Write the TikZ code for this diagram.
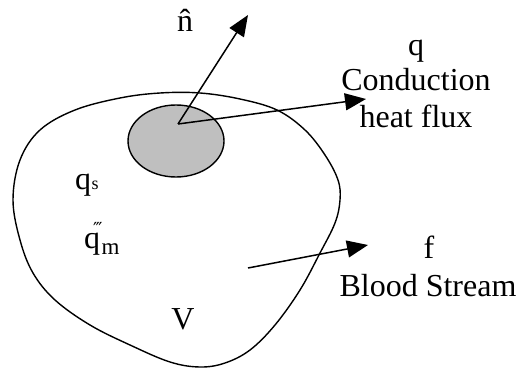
\documentclass[tikz,border=0pt]{standalone}
\usepackage{fontspec}
\setmainfont{Liberation Serif}
\newfontfamily\dvserif{DejaVu Serif}
\usetikzlibrary{arrows.meta,shapes.geometric}
\tikzset{
  lbl/.style={inner sep=0pt, anchor=base, font=\fontsize{32}{36}\selectfont},
  lblw/.style={inner sep=0pt, anchor=base west, font=\fontsize{32}{36}\selectfont},
  vec/.style={line width=1.5pt, -{Triangle[length=21pt,width=17pt]}},
  blob/.style={line width=1.4pt},
}
\begin{document}
\begin{tikzpicture}[x=1pt,y=-1pt]
\useasboundingbox (0,0) rectangle (517,369);
% body
\draw[blob] plot[smooth cycle, tension=0.6] coordinates {
 (13,200) (20,160) (40,130) (75,110) (120,98) (160,93) (200,93) (240,99)
 (277,110) (305,130) (325,155) (338,180) (340,200) (335,223) (320,253)
 (300,290) (275,325) (250,350) (225,363) (200,367) (170,362) (130,345)
 (90,325) (55,300) (33,273) (20,240)};
% surface patch
\node[draw, line width=1.4pt, fill=black!25, ellipse, minimum width=96pt, minimum height=72pt, inner sep=0pt] (patch) at (176,141) {};
\coordinate (o) at (178,124);
\coordinate (ntip) at (248,15);
\coordinate (qtip) at (366,99);
\coordinate (fstart) at (248,268);
\coordinate (ftip) at (368,245);
\draw[vec] (o) -- (ntip);
\draw[vec] (o) -- (qtip);
\draw[vec] (fstart) -- (ftip);
% labels
\node[lbl] (nhat) at (185,32) {\^{n}};
\node[lbl] (q) at (416,56) {q};
\node[lbl] (cond) at (416,91) {Conduction};
\node[lbl] (hf) at (416,128) {heat flux};
\node[lbl] (f) at (429,258) {f};
\node[lbl] (bs) at (428,296) {Blood Stream};
\node[lbl] (V) at (183,329) {V};
\node[lblw] (qs) at (75,189) {q\kern0.5pt{\fontsize{18}{20}\selectfont s}};
\node[lblw] (qm) at (84,248) {q\rlap{\kern-7pt\raisebox{13pt}{\dvserif\fontsize{18}{20}\selectfont ‴}}\kern1.5pt\raisebox{-6pt}{\fontsize{23}{26}\selectfont m}};
\end{tikzpicture}
\end{document}
